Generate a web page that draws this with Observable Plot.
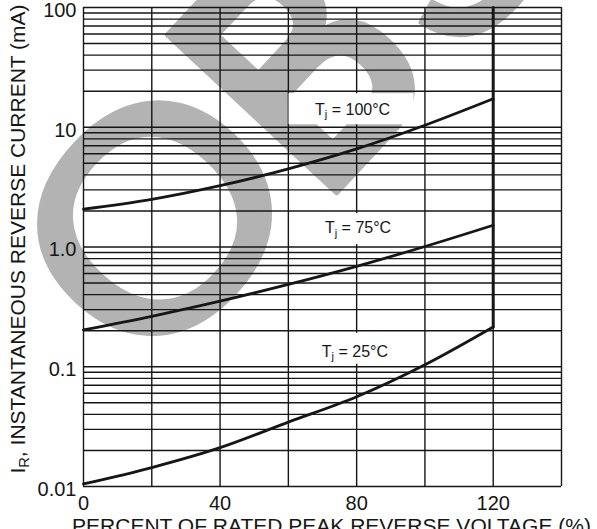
<!DOCTYPE html>
<html><head><meta charset="utf-8">
<script src="https://cdn.jsdelivr.net/npm/d3@7"></script>
<script src="https://cdn.jsdelivr.net/npm/@observablehq/plot@0.6"></script>
<style>
html,body{margin:0;padding:0;background:#fff;}
</style></head><body><div id="chart"></div>
<script>
// ---- data ----
const percent = [0, 20, 40, 60, 80, 100, 120];
const tj100 = [2.07, 2.5, 3.25, 4.5, 6.6, 10.4, 17.3];
const tj75 = [0.203, 0.264, 0.353, 0.487, 0.69, 1.01, 1.52];
const tj25 = [0.0105, 0.0144, 0.0211, 0.0345, 0.0562, 0.104, 0.215];
const seriesNames = ["100", "75", "25"];
const labelText = ["T_j = 100°C", "T_j = 75°C", "T_j = 25°C"];
const labelX = [78.8, 80.4, 79.5];
const labelY = [14.1, 1.44, 0.133];
const limitX = [120, 120];
const limitY = [0.215, 100];
const xTicks = [0, 40, 80, 120];
const xGrid = [0, 20, 40, 60, 80, 100, 120, 140];
const yTicks = [0.01, 0.1, 1, 10, 100];
const yTickLabels = ["0.01", "0.1", "1.0", "10", "100"];
const decades = [0.01, 0.1, 1, 10];
const multipliers = [1, 2, 3, 4, 5, 6, 7, 8, 9];
const xTitle = "PERCENT OF RATED PEAK REVERSE VOLTAGE (%)";
const yTitle = "I_R, INSTANTANEOUS REVERSE CURRENT (mA)";
const watermark = ["O", "B", "S"];

// ---- build tables ----
const seriesValues = [tj100, tj75, tj25];
const rows = seriesNames.flatMap((s, k) => percent.map((p, i) => ({x: p, y: seriesValues[k][i], s})));
const yGrid = decades.flatMap(d => multipliers.map(m => +(d * m).toPrecision(3))).concat([100]);
const labels = labelText.map((t, i) => {
  const dec = Math.pow(10, Math.floor(Math.log10(labelY[i])));
  const lo = Math.floor(labelY[i] / dec) * dec;
  return {t, x: labelX[i], y: labelY[i], lo, hi: lo + dec};
});
const font = "Arial, 'Liberation Sans', Helvetica, sans-serif";
const ink = "#161616";

const chart = Plot.plot({
  width: 597, height: 529,
  marginLeft: 83, marginRight: 36, marginTop: 7, marginBottom: 43,
  style: {fontFamily: font, background: "white", color: ink, overflow: "visible"},
  x: {domain: [0, 140]},
  y: {type: "log", domain: [0.01, 100]},
  marks: [
    Plot.ruleX(xGrid, {stroke: ink, strokeWidth: 1.4}),
    Plot.ruleY(yGrid, {stroke: ink, strokeWidth: 1.4}),
    Plot.rect(labels, {x1: d => d.x - 18.6, x2: d => d.x + 18, y1: "lo", y2: "hi", fill: "white", insetTop: 2.5, insetBottom: 2.5}),
    Plot.text(labels, {x: "x", y: "y", text: "t", fontSize: 16, fill: ink, fontFamily: font}),
    Plot.line(rows, {x: "x", y: "y", z: "s", curve: "monotone-x", stroke: ink, strokeWidth: 2.8}),
    Plot.line(limitX.map((x, i) => ({x, y: limitY[i]})), {x: "x", y: "y", stroke: ink, strokeWidth: 3}),
    Plot.axisX(xTicks, {tickSize: 0, tickPadding: 9, fontSize: 20, fill: ink, label: null}),
    Plot.axisY(yTicks, {tickSize: 0, tickPadding: 7, fontSize: 20, fill: ink, label: null, dy: 3,
      tickFormat: d => yTickLabels[yTicks.indexOf(d)]}),
    Plot.text([xTitle], {frameAnchor: "bottom", dy: 32, dx: 9, lineAnchor: "top", fontSize: 21, fill: ink}),
    Plot.text([yTitle], {frameAnchor: "left", textAnchor: "middle", rotate: -90, dx: -65.5, dy: -8, fontSize: 21, fill: ink})
  ]
});

// subscripts
const ns = "http://www.w3.org/2000/svg";
chart.querySelectorAll("text").forEach(t => {
  const m = t.textContent.match(/^(.*?)_(\w)(.*)$/);
  if (!m) return;
  t.textContent = "";
  const a = document.createElementNS(ns, "tspan"); a.textContent = m[1];
  const b = document.createElementNS(ns, "tspan"); b.textContent = m[2];
  b.setAttribute("font-size", "0.7em"); b.setAttribute("dy", "0.3em");
  const c = document.createElementNS(ns, "tspan"); c.textContent = m[3];
  c.setAttribute("dy", "-0.21em");
  t.append(a, b, c);
});

// gray watermark letters on a tilted baseline, behind the grid
const wm = document.createElementNS(ns, "g");
wm.setAttribute("fill", "#b3b3b3");
wm.setAttribute("stroke", "#b3b3b3");
wm.setAttribute("stroke-linejoin", "round");
wm.setAttribute("font-family", font);
wm.setAttribute("transform", "translate(337,196) rotate(-47)");
const glyphs = [
  {size: 303, weight: "normal", sw: 8, anchor: "middle", x: -130, y: -13.5, sx: 1.08},
  {size: 335, weight: "bold", sw: 6, anchor: "start", x: -20, y: -3, sx: 0.72},
  {size: 335, weight: "normal", sw: 4, anchor: "start", x: 214, y: -2, sx: 0.8}
];
watermark.forEach((ch, i) => {
  const g = glyphs[i];
  const t = document.createElementNS(ns, "text");
  t.textContent = ch;
  t.setAttribute("font-size", g.size);
  t.setAttribute("font-weight", g.weight);
  t.setAttribute("stroke-width", g.sw);
  t.setAttribute("text-anchor", g.anchor);
  t.setAttribute("x", g.x);
  t.setAttribute("y", g.y);
  t.setAttribute("transform", `scale(${g.sx},1)`);
  wm.append(t);
});
chart.insertBefore(wm, chart.querySelector("g"));

document.getElementById("chart").append(chart);
</script></body></html>
